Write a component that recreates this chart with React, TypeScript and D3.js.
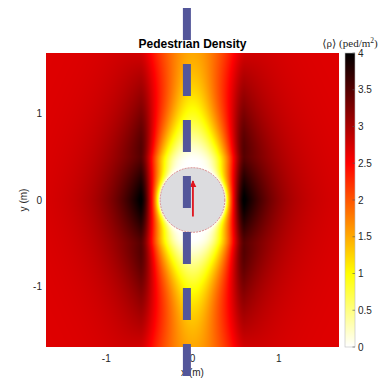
import React, { useMemo } from 'react';
import * as d3 from 'd3';

const W = 384;
const H = 378;

// axes
const axisDomain: [number, number] = [-1.7, 1.7];
const xTicks = [-1, 0, 1];
const yTicks = [-1, 0, 1];
const colorTicks = [0, 0.5, 1, 1.5, 2, 2.5, 3, 3.5, 4];
const densityDomain: [number, number] = [0, 4];

// density field parameters
const backgroundDensity = 2.68;
const wakeDepth = [0.95, 1.75, 0.45, 0.55]; // far depth, extra near depth, start y, decay
const wakeWidth = [0.32, 0.3, 1.1, 0.5]; // min width, curvature, y of min, y clamp
const crowdPeak = [1.75, 1.0, 1.3, 0.6, 0.15, 0.32]; // amplitude, y scale, y power, x of peak, inner width, outer decay
const haloLayer = [0.04, 0.3, 8]; // side thickness, extra front thickness, angular power

// pedestrian, arrow, lane
const pedestrianCenter = [0, 0];
const pedestrianRadius = 0.375;
const arrowFrom = [0.005, -0.19];
const arrowTo = [0.005, 0.22];
const laneX = -0.065;
const laneY = [2.22, -2.4];

const M = { left: 46, right: 339, top: 53, bottom: 347 };
const CB = { left: 345, right: 355 };

function hotReversed(t: number): string {
  const s = 1 - t;
  const r = Math.min(1, s / 0.375);
  const g = Math.max(0, Math.min(1, (s - 0.375) / 0.375));
  const b = Math.max(0, Math.min(1, (s - 0.75) / 0.25));
  return `rgb(${Math.round(r * 255)},${Math.round(g * 255)},${Math.round(b * 255)})`;
}

function density(x: number, y: number): number {
  const ax = Math.abs(x - pedestrianCenter[0]);
  const ay = Math.abs(y - pedestrianCenter[1]);
  const r = Math.hypot(ax, ay);
  const d = Math.max(r - pedestrianRadius, 0);
  const D = wakeDepth[0] + wakeDepth[1] * Math.exp(-Math.max(ay - wakeDepth[2], 0) / wakeDepth[3]);
  const yw = Math.max(ay, wakeWidth[3]);
  const w = wakeWidth[0] + wakeWidth[1] * (yw - wakeWidth[2]) ** 2;
  const band = D * Math.exp(-((ax / w) ** 2));
  const A = crowdPeak[0] * Math.exp(-Math.pow(ay / crowdPeak[1], crowdPeak[2]));
  const dx = ax - crowdPeak[3];
  const P = dx < 0 ? Math.exp(-((dx / crowdPeak[4]) ** 2)) : Math.exp(-dx / crowdPeak[5]);
  let rho = backgroundDensity - band + A * P;
  const cosphi = r > 0 ? ay / r : 1;
  const delta = haloLayer[0] + haloLayer[1] * Math.pow(cosphi, haloLayer[2]);
  rho *= 1 - Math.exp(-d / delta);
  return Math.max(densityDomain[0], Math.min(densityDomain[1], rho));
}

export default function App() {
  const x = d3.scaleLinear().domain(axisDomain).range([M.left, M.right]);
  const y = d3.scaleLinear().domain(axisDomain).range([M.bottom, M.top]);
  const color = d3.scaleSequential((t: number) => hotReversed(t)).domain(densityDomain);
  const cbY = d3.scaleLinear().domain(densityDomain).range([M.bottom, M.top]);

  const href = useMemo(() => {
    const pw = Math.round(M.right - M.left);
    const ph = Math.round(M.bottom - M.top);
    const canvas = document.createElement('canvas');
    canvas.width = pw;
    canvas.height = ph;
    const ctx = canvas.getContext('2d');
    if (!ctx) return '';
    const img = ctx.createImageData(pw, ph);
    for (let j = 0; j < ph; j++) {
      const yy = y.invert(M.top + j + 0.5);
      for (let i = 0; i < pw; i++) {
        const xx = x.invert(M.left + i + 0.5);
        const c = d3.rgb(color(density(xx, yy)));
        const k = (j * pw + i) * 4;
        img.data[k] = c.r;
        img.data[k + 1] = c.g;
        img.data[k + 2] = c.b;
        img.data[k + 3] = 255;
      }
    }
    ctx.putImageData(img, 0, 0);
    return canvas.toDataURL();
  }, []);

  const stops = d3.range(0, 41).map((i) => i / 40);
  const font = "'Liberation Sans', Arial, sans-serif";
  const rPx = x(pedestrianRadius) - x(0);

  return (
    <svg width={W} height={H} style={{ position: 'absolute', left: 0, top: 0, background: '#fff' }}>
      <defs>
        <linearGradient id="cbgrad" x1="0" y1="1" x2="0" y2="0">
          {stops.map((s) => (
            <stop key={s} offset={s} stopColor={color(densityDomain[0] + s * (densityDomain[1] - densityDomain[0]))} />
          ))}
        </linearGradient>
        <marker id="arrowhead" viewBox="0 0 10 10" refX="9" refY="5" markerWidth="4" markerHeight="5" orient="auto">
          <path d="M0,0 L10,5 L0,10 z" fill="#e0141e" />
        </marker>
      </defs>
      <rect width={W} height={H} fill="#fff" />
      {href && (
        <image href={href} x={M.left} y={M.top} width={M.right - M.left} height={M.bottom - M.top} preserveAspectRatio="none" />
      )}
      {/* title */}
      <text x={x(0)} y={48} textAnchor="middle" fontFamily={font} fontWeight="bold" fontSize={12} fill="#000">
        Pedestrian Density
      </text>
      {/* x ticks */}
      {xTicks.map((t) => (
        <text key={'x' + t} x={x(t)} y={362} textAnchor="middle" fontFamily={font} fontSize={10} fill="#262626">
          {t}
        </text>
      ))}
      <text x={x(0)} y={376} textAnchor="middle" fontFamily={font} fontSize={10} fill="#262626">
        x (m)
      </text>
      {/* y ticks */}
      {yTicks.map((t) => (
        <text key={'y' + t} x={42} y={y(t)} dy="0.35em" textAnchor="end" fontFamily={font} fontSize={10} fill="#262626">
          {t}
        </text>
      ))}
      <text transform={`translate(27,${y(0)}) rotate(-90)`} textAnchor="middle" fontFamily={font} fontSize={10} fill="#262626">
        y (m)
      </text>
      {/* colorbar */}
      <rect x={CB.left} y={M.top} width={CB.right - CB.left} height={M.bottom - M.top} fill="url(#cbgrad)" stroke="#bdbdbd" strokeWidth={0.6} />
      {colorTicks.map((t) => (
        <g key={'c' + t}>
          <line x1={CB.right - 2.5} x2={CB.right} y1={cbY(t)} y2={cbY(t)} stroke="#555" strokeWidth={0.6} />
          <text x={358} y={cbY(t)} dy="0.35em" fontFamily={font} fontSize={10} fill="#262626">
            {t}
          </text>
        </g>
      ))}
      <text x={350} y={47} textAnchor="middle" fontFamily="'Liberation Serif', 'DejaVu Serif', serif" fontSize={11} fill="#262626">
        {'\u27E8\u03C1\u27E9 (ped/m'}
        <tspan dy={-4} fontSize={7.5}>2</tspan>
        <tspan dy={4}>)</tspan>
      </text>
      {/* pedestrian */}
      <circle cx={x(pedestrianCenter[0])} cy={y(pedestrianCenter[1])} r={rPx} fill="#dcdcdf" stroke="#d07070" strokeWidth={0.8} strokeDasharray="2,1" />
      <line
        x1={x(arrowFrom[0])}
        y1={y(arrowFrom[1])}
        x2={x(arrowTo[0])}
        y2={y(arrowTo[1])}
        stroke="#e0141e"
        strokeWidth={1.8}
        markerEnd="url(#arrowhead)"
      />
      {/* lane */}
      <line x1={x(laneX)} x2={x(laneX)} y1={y(laneY[0])} y2={y(laneY[1])} stroke="#53569a" strokeWidth={8} strokeDasharray="32,24" />
    </svg>
  );
}
